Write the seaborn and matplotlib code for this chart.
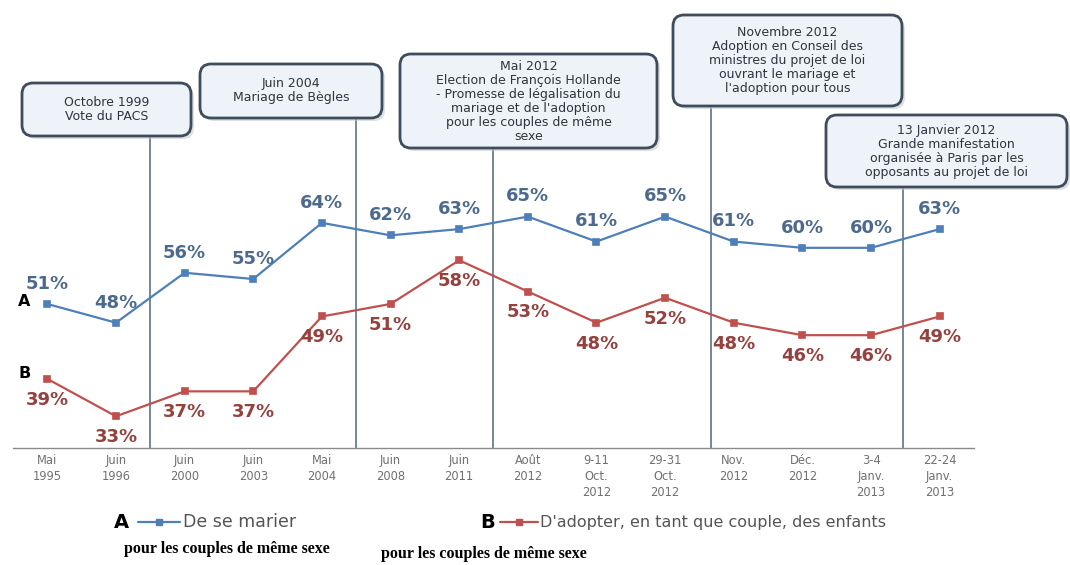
import numpy as np
import pandas as pd
import matplotlib
matplotlib.use("Agg")
import matplotlib.pyplot as plt
from matplotlib.patches import FancyBboxPatch
from matplotlib.lines import Line2D
import seaborn as sns

# ---------------- data ----------------
categories = ["Mai\n1995", "Juin\n1996", "Juin\n2000", "Juin\n2003", "Mai\n2004",
              "Juin\n2008", "Juin\n2011", "Août\n2012", "9-11\nOct.\n2012",
              "29-31\nOct.\n2012", "Nov.\n2012", "Déc.\n2012", "3-4\nJanv.\n2013",
              "22-24\nJanv.\n2013"]
marier = [51, 48, 56, 55, 64, 62, 63, 65, 61, 65, 61, 60, 60, 63]
adopter = [39, 33, 37, 37, 49, 51, 58, 53, 48, 52, 48, 46, 46, 49]
legend_a = "De se marier"
legend_b = "D'adopter, en tant que couple, des enfants"
subtitle = "pour les couples de même sexe"
events = [
    "Octobre 1999\nVote du PACS",
    "Juin 2004\nMariage de Bègles",
    "Mai 2012\nElection de François Hollande\n- Promesse de légalisation du\nmariage et de l'adoption\npour les couples de même\nsexe",
    "Novembre 2012\nAdoption en Conseil des\nministres du projet de loi\nouvrant le mariage et\nl'adoption pour tous",
    "13 Janvier 2012\nGrande manifestation\norganisée à Paris par les\nopposants au projet de loi",
]
event_x = [1.5, 4.5, 6.5, 9.67, 12.47]

# ---------------- style ----------------
sns.set_theme(style="white")
plt.rcParams['font.family'] = ['DejaVu Sans']

W, H = 1070, 565
fig = plt.figure(figsize=(W / 100, H / 100), dpi=100)
fig.patch.set_facecolor("white")

AX_BOTTOM = 447.5  # pixel
PX_PER_PT = 6.24
ymin = 28
ymax = ymin + AX_BOTTOM / PX_PER_PT
ax = fig.add_axes([13 / W, 1 - AX_BOTTOM / H, (974 - 13) / W, AX_BOTTOM / H])
ax.set_facecolor("none")

blue = "#4f7fb8"
red = "#c0504d"
blue_txt = "#4d6a8c"
red_txt = "#93423f"

df = pd.DataFrame({"cat": categories, "A": marier, "B": adopter})
sns.pointplot(data=df, x="cat", y="A", color=blue, markers="s", markersize=4,
              linewidth=1.6, ax=ax, errorbar=None)
sns.pointplot(data=df, x="cat", y="B", color=red, markers="s", markersize=4,
              linewidth=1.6, ax=ax, errorbar=None)

ax.set_xlim(-0.5, len(categories) - 0.5)
ax.set_ylim(ymin, ymax)
ax.set_xlabel("")
ax.set_ylabel("")
ax.set_yticks([])
for s in ["top", "right", "left"]:
    ax.spines[s].set_visible(False)
ax.spines["bottom"].set_color("#8a8a8a")
ax.spines["bottom"].set_linewidth(1.0)

ax.set_xticks(range(len(categories)))
ax.set_xticklabels(categories, fontsize=8.3, color="#707070", linespacing=1.3)
ax.tick_params(axis="x", which="major", length=0, pad=5)
ax.set_xticks(np.arange(-0.5, len(categories), 1), minor=True)
ax.tick_params(axis="x", which="minor", length=5, color="#8a8a8a", width=1, direction="out")

# value labels
for i, v in enumerate(marier):
    ax.annotate(f"{v}%", (i, v), xytext=(0, 14.5), textcoords="offset points",
                ha="center", va="center", fontsize=13, fontweight="bold", color=blue_txt)
for i, v in enumerate(adopter):
    ax.annotate(f"{v}%", (i, v), xytext=(0, -15), textcoords="offset points",
                ha="center", va="center", fontsize=13, fontweight="bold", color=red_txt)

# helpers in pixel coords
tr = fig.dpi_scale_trans
def P(x, y):
    return x / 100, (H - y) / 100

# event boxes (pixel extents: left, top, right, bottom)
boxes = [(22, 83, 191, 136), (200, 64, 382, 118), (400, 54, 657, 148),
         (673, 15, 902, 106), (826, 115, 1067, 187)]
for (x0, y0, x1, y1), txt, ex in zip(boxes, events, event_x):
    ax.axvline(ex, ymin=0, ymax=(AX_BOTTOM - y1) / AX_BOTTOM, color="#5d7289", lw=1.2, zorder=0)
    sx, sy = P(x0 + 3, y1 + 3)
    shadow = FancyBboxPatch((sx, sy), (x1 - x0) / 100, (y1 - y0) / 100,
                            boxstyle="round,pad=0,rounding_size=0.11", transform=tr,
                            facecolor="#c8ccd2", edgecolor="none", alpha=0.6, zorder=4)
    fig.add_artist(shadow)
    bx, by = P(x0, y1)
    patch = FancyBboxPatch((bx, by), (x1 - x0) / 100, (y1 - y0) / 100,
                           boxstyle="round,pad=0,rounding_size=0.11", transform=tr,
                           facecolor="#eef3f9", edgecolor="#3e4c5c", lw=2, zorder=5)
    fig.add_artist(patch)
    cx, cy = P((x0 + x1) / 2, (y0 + y1) / 2)
    fig.text(cx, cy, txt, transform=tr, ha="center", va="center", fontsize=9,
             color="#2e3440", linespacing=1.1, zorder=6)

# A / B labels by first points
fig.text(*P(24, 302), "A", transform=tr, ha="center", va="center",
         fontsize=11.5, fontweight="bold", color="black")
fig.text(*P(25, 374), "B", transform=tr, ha="center", va="center",
         fontsize=11.5, fontweight="bold", color="black")

# legend
fig.text(*P(121, 522), "A", transform=tr, ha="center", va="center",
         fontsize=14, fontweight="bold", color="black")
fig.add_artist(Line2D([138 / 100, 180 / 100], [(H - 522) / 100] * 2, transform=tr,
                      color=blue, lw=1.6))
fig.add_artist(Line2D([159 / 100], [(H - 522) / 100], transform=tr, color=blue,
                      marker="s", markersize=4))
fig.text(*P(183, 522), legend_a, transform=tr, ha="left", va="center",
         fontsize=12.5, color="#555555")
fig.text(*P(488, 522), "B", transform=tr, ha="center", va="center",
         fontsize=14, fontweight="bold", color="black")
fig.add_artist(Line2D([500 / 100, 538 / 100], [(H - 522) / 100] * 2, transform=tr,
                      color=red, lw=1.6))
fig.add_artist(Line2D([519 / 100], [(H - 522) / 100], transform=tr, color=red,
                      marker="s", markersize=4))
fig.text(*P(540, 522), legend_b, transform=tr, ha="left", va="center",
         fontsize=11.5, color="#555555")

fig.text(*P(227, 549), subtitle, transform=tr, ha="center", va="center",
         fontsize=11.5, fontweight="bold", family="Liberation Serif", color="black")
fig.text(*P(484, 554), subtitle, transform=tr, ha="center", va="center",
         fontsize=11.5, fontweight="bold", family="Liberation Serif", color="black")

fig.savefig("out.png", dpi=100, facecolor="white")
